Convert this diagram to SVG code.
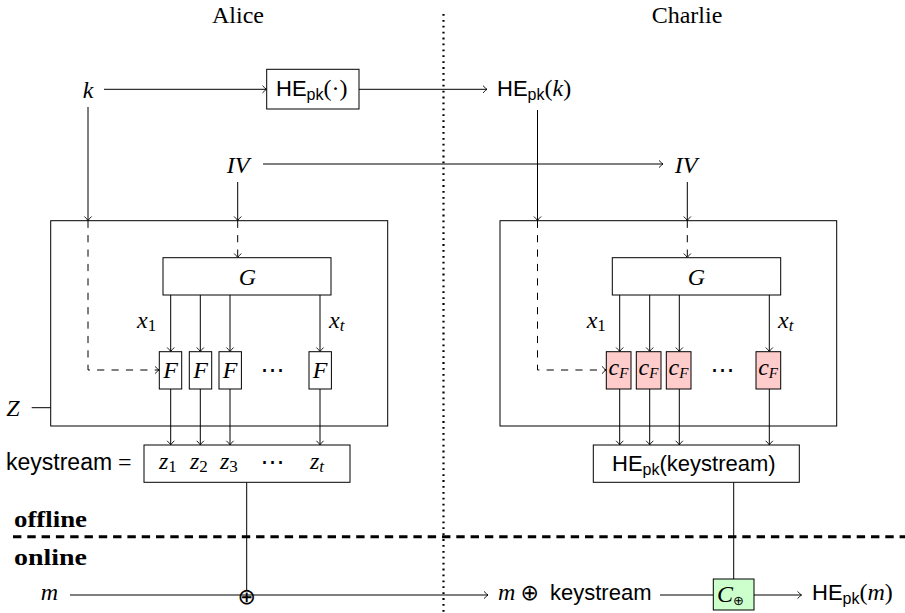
<svg xmlns="http://www.w3.org/2000/svg" width="905" height="613" viewBox="0 0 905 613">
<style>
.rm{font-family:"Liberation Serif",serif;font-size:24px;fill:#000}
.it{font-family:"Liberation Serif",serif;font-style:italic;font-size:24px;fill:#000}
.sf{font-family:"Liberation Sans",Arial,sans-serif;font-size:22px;fill:#000}
.bf{font-family:"Liberation Serif",serif;font-weight:bold;font-size:24px;fill:#000}
.sym{font-family:"DejaVu Sans",sans-serif;fill:#000}
.ssf{font-family:"Liberation Sans",Arial,sans-serif;font-size:16px;fill:#000}
.srm{font-family:"Liberation Serif",serif;font-size:17px;fill:#000}
.sit{font-family:"Liberation Serif",serif;font-style:italic;font-size:17px;fill:#000}
.box{fill:#fff;stroke:#000;stroke-width:1}
.pink{fill:#ffcccc;stroke:#000;stroke-width:1}
.green{fill:#ccffcc;stroke:#000;stroke-width:1}
.ln{fill:none;stroke:#000;stroke-width:1}
.arr{marker-end:url(#ah)}
.dash{stroke-dasharray:7.2 7.2}
</style>
<defs>
<marker id="ah" viewBox="-6 -5 7 10" markerWidth="7" markerHeight="10" refX="0" refY="0" orient="auto" markerUnits="userSpaceOnUse">
<path d="M-4,-3.6 Q-1.4,-0.9 0,0 Q-1.4,0.9 -4,3.6" fill="none" stroke="#000" stroke-width="0.9"/>
</marker>
</defs>

<g id="headers">
<text class="rm" x="238" y="23" text-anchor="middle">Alice</text>
<text class="rm" x="687" y="23" text-anchor="middle">Charlie</text>
</g>

<g id="phase-lines">
<line x1="443.5" y1="14" x2="443.5" y2="613" stroke="#000" stroke-width="2.2" stroke-dasharray="1.8 4.1"/>
<line x1="13" y1="536.7" x2="905" y2="536.7" stroke="#000" stroke-width="3" stroke-dasharray="8.4 5.9"/>
<text class="bf" x="14" y="527" textLength="73" lengthAdjust="spacingAndGlyphs">offline</text>
<text class="bf" x="14" y="565" textLength="73" lengthAdjust="spacingAndGlyphs">online</text>
</g>

<g id="connectors">
<line class="ln arr" x1="104" y1="89.3" x2="266.5" y2="89.3"/>
<line class="ln arr" x1="359" y1="89.3" x2="487" y2="89.3"/>
<line class="ln arr" x1="88" y1="107" x2="88" y2="220.5"/>
<path class="ln dash arr" d="M88,220.7 V370 H159"/>
<line class="ln arr" x1="263" y1="164" x2="663" y2="164"/>
<line class="ln arr" x1="237.7" y1="182" x2="237.7" y2="220.5"/>
<line class="ln dash arr" x1="237.7" y1="220.7" x2="237.7" y2="257.5"/>
<line class="ln arr" x1="537.5" y1="110" x2="537.5" y2="220.5"/>
<path class="ln dash arr" d="M537.5,220.7 V370 H606"/>
<line class="ln arr" x1="687.3" y1="182" x2="687.3" y2="220.5"/>
<line class="ln dash arr" x1="687.3" y1="220.7" x2="687.3" y2="257.5"/>
<line class="ln arr" x1="170.7" y1="295" x2="170.7" y2="351.5"/>
<line class="ln arr" x1="200.3" y1="295" x2="200.3" y2="351.5"/>
<line class="ln arr" x1="230" y1="295" x2="230" y2="351.5"/>
<line class="ln arr" x1="320" y1="295" x2="320" y2="351.5"/>
<line class="ln arr" x1="619.7" y1="295" x2="619.7" y2="351.5"/>
<line class="ln arr" x1="649.7" y1="295" x2="649.7" y2="351.5"/>
<line class="ln arr" x1="679.3" y1="295" x2="679.3" y2="351.5"/>
<line class="ln arr" x1="769.3" y1="295" x2="769.3" y2="351.5"/>
<line class="ln arr" x1="170.7" y1="389" x2="170.7" y2="444.8"/>
<line class="ln arr" x1="200.3" y1="389" x2="200.3" y2="444.8"/>
<line class="ln arr" x1="230" y1="389" x2="230" y2="444.8"/>
<line class="ln arr" x1="320" y1="389" x2="320" y2="444.8"/>
<line class="ln arr" x1="619.7" y1="389" x2="619.7" y2="444.8"/>
<line class="ln arr" x1="649.7" y1="389" x2="649.7" y2="444.8"/>
<line class="ln arr" x1="679.3" y1="389" x2="679.3" y2="444.8"/>
<line class="ln arr" x1="769.3" y1="389" x2="769.3" y2="444.8"/>
<line class="ln" x1="31.7" y1="407.7" x2="50.7" y2="407.7"/>
<line class="ln" x1="246.7" y1="482.3" x2="246.7" y2="590"/>
<line class="ln arr" x1="70" y1="595" x2="488" y2="595"/>
<line class="ln" x1="733.7" y1="482.3" x2="733.7" y2="579"/>
<line class="ln" x1="660" y1="595" x2="713.3" y2="595"/>
<line class="ln arr" x1="754" y1="595" x2="801.5" y2="595"/>
</g>

<g id="k"><text class="it" x="88" y="98" text-anchor="middle">k</text></g>

<g id="he-box">
<rect class="box" x="266.7" y="69.3" width="92.3" height="39.7"/>
<text x="276" y="96"><tspan class="sf">HE</tspan><tspan class="ssf" dy="3.5">pk</tspan><tspan class="rm" dy="-3.5">(·)</tspan></text>
</g>

<g id="he-k">
<text x="497" y="96"><tspan class="sf">HE</tspan><tspan class="ssf" dy="3.5">pk</tspan><tspan class="rm" dy="-3.5">(</tspan><tspan class="it">k</tspan><tspan class="rm">)</tspan></text>
</g>

<g id="iv-alice"><text class="it" x="238" y="173" text-anchor="middle">IV</text></g>
<g id="iv-charlie"><text class="it" x="686" y="173" text-anchor="middle">IV</text></g>

<g id="alice-z">
<rect x="50.7" y="220.7" width="337" height="205.3" fill="none" stroke="#000" stroke-width="1"/>
<text class="it" x="13" y="416" text-anchor="middle">Z</text>
</g>

<g id="alice-g">
<rect class="box" x="163" y="257.7" width="168" height="37.3"/>
<text class="it" x="247.5" y="285" text-anchor="middle">G</text>
</g>

<g id="alice-labels">
<text x="137" y="328"><tspan class="it">x</tspan><tspan class="srm" dy="3">1</tspan></text>
<text x="329" y="328"><tspan class="it">x</tspan><tspan class="sit" dy="3">t</tspan></text>
<text class="sym" font-size="24" x="272.5" y="378" text-anchor="middle">⋯</text>
</g>

<g id="alice-f1"><rect class="box" x="159.3" y="351.7" width="22.4" height="37.3"/><text class="it" x="170.5" y="378" text-anchor="middle">F</text></g>
<g id="alice-f2"><rect class="box" x="189.3" y="351.7" width="22.4" height="37.3"/><text class="it" x="200.5" y="378" text-anchor="middle">F</text></g>
<g id="alice-f3"><rect class="box" x="219" y="351.7" width="22.4" height="37.3"/><text class="it" x="230.2" y="378" text-anchor="middle">F</text></g>
<g id="alice-ft"><rect class="box" x="309" y="351.7" width="22.4" height="37.3"/><text class="it" x="320.2" y="378" text-anchor="middle">F</text></g>

<g id="keystream">
<text class="sf" x="6" y="470" style="font-size:23px">keystream</text>
<text class="rm" x="118" y="470">=</text>
<rect class="box" x="144" y="445" width="206" height="37.3"/>
<text x="159" y="469"><tspan class="it">z</tspan><tspan class="srm" dy="3">1</tspan></text>
<text x="190" y="469"><tspan class="it">z</tspan><tspan class="srm" dy="3">2</tspan></text>
<text x="220" y="469"><tspan class="it">z</tspan><tspan class="srm" dy="3">3</tspan></text>
<text class="sym" font-size="24" x="272.5" y="470" text-anchor="middle">⋯</text>
<text x="310" y="469"><tspan class="it">z</tspan><tspan class="sit" dy="3">t</tspan></text>
</g>

<g id="m"><text class="it" x="49.5" y="600" text-anchor="middle">m</text></g>
<g id="xor"><text class="sym" font-size="22" x="246.7" y="603.5" text-anchor="middle">⊕</text></g>

<g id="charlie-z">
<rect x="500" y="220.7" width="336.7" height="205.3" fill="none" stroke="#000" stroke-width="1"/>
</g>

<g id="charlie-g">
<rect class="box" x="612.3" y="257.7" width="168.4" height="37.3"/>
<text class="it" x="696.5" y="285" text-anchor="middle">G</text>
</g>

<g id="charlie-labels">
<text x="586.7" y="328"><tspan class="it">x</tspan><tspan class="srm" dy="3">1</tspan></text>
<text x="778" y="328"><tspan class="it">x</tspan><tspan class="sit" dy="3">t</tspan></text>
<text class="sym" font-size="24" x="722.5" y="378" text-anchor="middle">⋯</text>
</g>

<g id="charlie-c1"><rect class="pink" x="606.3" y="351.7" width="24.7" height="37.3"/><text x="608.5" y="375"><tspan class="it">c</tspan><tspan class="sit" style="font-size:15px" dy="3">F</tspan></text></g>
<g id="charlie-c2"><rect class="pink" x="636.3" y="351.7" width="24.7" height="37.3"/><text x="638.5" y="375"><tspan class="it">c</tspan><tspan class="sit" style="font-size:15px" dy="3">F</tspan></text></g>
<g id="charlie-c3"><rect class="pink" x="666.3" y="351.7" width="24.7" height="37.3"/><text x="668.5" y="375"><tspan class="it">c</tspan><tspan class="sit" style="font-size:15px" dy="3">F</tspan></text></g>
<g id="charlie-ct"><rect class="pink" x="756" y="351.7" width="24.7" height="37.3"/><text x="758.2" y="375"><tspan class="it">c</tspan><tspan class="sit" style="font-size:15px" dy="3">F</tspan></text></g>

<g id="he-keystream">
<rect class="box" x="593.3" y="445" width="206" height="37.3"/>
<text x="612" y="471"><tspan class="sf">HE</tspan><tspan class="ssf" dy="3.5">pk</tspan><tspan class="sf" dy="-3.5">(keystream)</tspan></text>
</g>

<g id="m-xor-keystream">
<text y="600"><tspan class="it" x="498">m</tspan><tspan class="sym" font-size="22" x="520.5">⊕</tspan><tspan class="sf" x="550">keystream</tspan></text>
</g>

<g id="c-xor">
<rect class="green" x="713.3" y="579" width="40.7" height="31"/>
<text x="717" y="602"><tspan class="it">C</tspan><tspan class="sym" font-size="13" dy="3">⊕</tspan></text>
</g>

<g id="he-m">
<text x="812" y="600"><tspan class="sf">HE</tspan><tspan class="ssf" dy="3.5">pk</tspan><tspan class="rm" dy="-3.5">(</tspan><tspan class="it">m</tspan><tspan class="rm">)</tspan></text>
</g>
</svg>
